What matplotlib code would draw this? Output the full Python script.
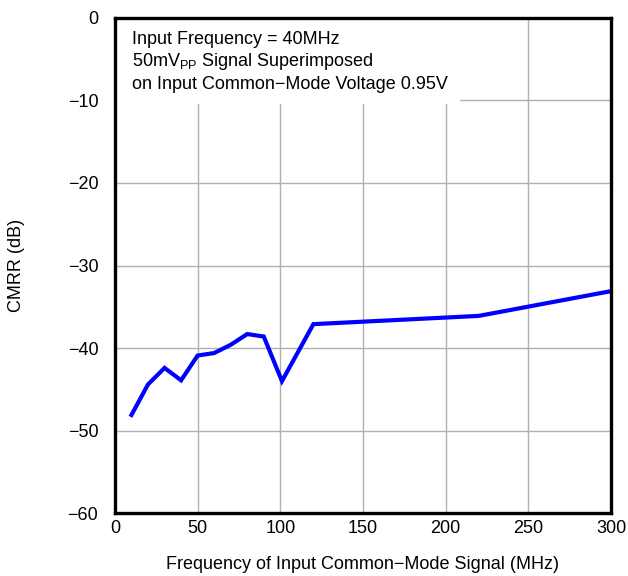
import matplotlib.pyplot as plt
from matplotlib.patches import Rectangle

plt.rcParams['font.family'] = ['Liberation Sans', 'DejaVu Sans']

freq = [10, 20, 30, 40, 50, 60, 70, 80, 90, 101, 120, 220, 300]
cmrr = [-48.1, -44.4, -42.4, -43.9, -40.9, -40.6, -39.6, -38.3, -38.6, -44.0, -37.1, -36.1, -33.1]

xticks = [0, 50, 100, 150, 200, 250, 300]
yticks = [-60, -50, -40, -30, -20, -10, 0]
ytick_labels = ['\u221260', '\u221250', '\u221240', '\u221230', '\u221220', '\u221210', '0']

fig = plt.figure(figsize=(6.28, 5.76), dpi=100)
ax = fig.add_axes([0.183, 0.109, 0.79, 0.86])

ax.plot(freq, cmrr, color='#0000ff', lw=3, zorder=4, solid_joinstyle='miter')

ax.set_xlim(0, 300)
ax.set_ylim(-60, 0)
ax.set_xticks(xticks)
ax.set_yticks(yticks)
ax.set_yticklabels(ytick_labels)
ax.tick_params(length=0, labelsize=13)
ax.tick_params(axis='y', pad=12)
ax.tick_params(axis='x', pad=5)
ax.grid(True, color='#b0b0b0', lw=1)
ax.set_axisbelow(True)
for s in ax.spines.values():
    s.set_linewidth(2.4)
    s.set_zorder(5)

# white box behind the note covers the grid
ax.add_patch(Rectangle((0, 0.826), 0.696, 0.174, transform=ax.transAxes,
                       facecolor='white', edgecolor='none', zorder=2))
ax.text(0.035, 0.974,
        'Input Frequency = 40MHz\n50mV$_{\\mathregular{PP}}$ Signal Superimposed\n'
        'on Input Common\u2212Mode Voltage 0.95V',
        transform=ax.transAxes, ha='left', va='top', fontsize=13,
        linespacing=1.25, zorder=3)

ax.set_xlabel('Frequency of Input Common\u2212Mode Signal (MHz)', fontsize=13)
ax.set_ylabel('CMRR (dB)', fontsize=13)
ax.xaxis.set_label_coords(0.5, -0.087)
ax.yaxis.set_label_coords(-0.181, 0.5)

fig.savefig('out.png', dpi=100)
